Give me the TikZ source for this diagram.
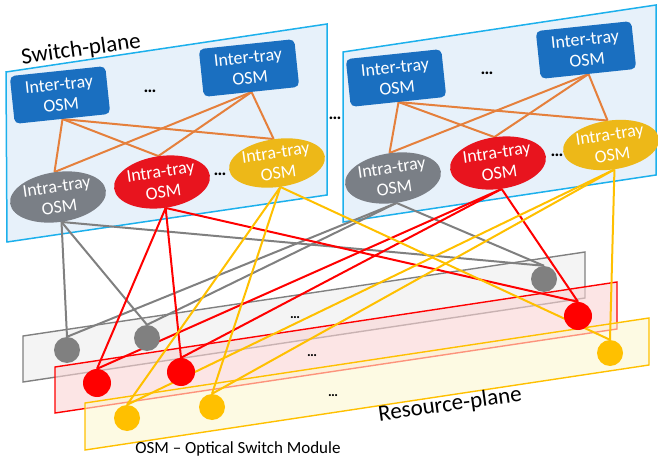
\documentclass[tikz,border=0pt]{standalone}
\usepackage{fontspec}
\setmainfont{Carlito}
\usetikzlibrary{shapes.geometric}
\definecolor{planefill}{HTML}{E7F1FA}
\definecolor{planeline}{HTML}{1CB0EC}
\definecolor{boxblue}{HTML}{1A6FC0}
\definecolor{egray}{HTML}{7A7F86}
\definecolor{ered}{HTML}{E8141E}
\definecolor{eyellow}{HTML}{EDB818}
\definecolor{lgray}{HTML}{808080}
\definecolor{lred}{HTML}{FF0000}
\definecolor{lyellow}{HTML}{FFC000}
\definecolor{lorange}{HTML}{E5803C}
\definecolor{rgfill}{HTML}{EDEDED}
\definecolor{rrfill}{HTML}{FAD4D4}
\definecolor{ryfill}{HTML}{FCF6D0}
\pgfdeclarelayer{bg}
\pgfsetlayers{bg,main}
\begin{document}
\begin{tikzpicture}[x=1pt,y=-1pt,
  splane/.style={draw=planeline,fill=planefill,line width=1.5pt},
  rplane/.style={line width=1.4pt,fill opacity=0.6},
  inter/.style={rectangle,rounded corners=5pt,fill=boxblue,text=white,minimum width=96pt,minimum height=48pt,inner sep=0pt,align=center,rotate=6,font=\fontsize{18}{21}\selectfont},
  intra/.style={ellipse,text=white,inner sep=0pt,align=center,rotate=8,font=\fontsize{18}{21}\selectfont},
  res/.style={circle,inner sep=0pt,minimum size=26pt},
  conn/.style={line width=2pt},
  dotsn/.style={anchor=base,font=\fontsize{18}{18}\selectfont\bfseries},
  label/.style={font=\fontsize{23}{26}\selectfont,rotate=8}]
\useasboundingbox (0,0) rectangle (658,462);
% inter-tray boxes
\node[inter] (L1) at (60,95) {Inter-tray\\OSM};
\node[inter] (L2) at (249,68) {Inter-tray\\OSM};
\node[inter] (R1) at (396,78) {Inter-tray\\OSM};
\node[inter] (R2) at (586,50) {Inter-tray\\OSM};
% intra-tray ellipses
\node[intra,fill=egray,minimum width=94pt,minimum height=50pt] (LG) at (58,197) {Intra-tray\\OSM};
\node[intra,fill=ered,minimum width=89pt,minimum height=52pt] (LR) at (162,182) {Intra-tray\\OSM};
\node[intra,fill=eyellow,minimum width=91pt,minimum height=48pt] (LY) at (277,163) {Intra-tray\\OSM};
\node[intra,fill=egray,minimum width=94pt,minimum height=50pt] (RG) at (393,178) {Intra-tray\\OSM};
\node[intra,fill=ered,minimum width=90pt,minimum height=52pt] (RR) at (498,163) {Intra-tray\\OSM};
\node[intra,fill=eyellow,minimum width=88pt,minimum height=49pt] (RY) at (611,145) {Intra-tray\\OSM};
% resource nodes
\node[res,fill=lgray] (g1) at (67,350) {};
\node[res,fill=lgray] (g2) at (147,338) {};
\node[res,fill=lgray] (g3) at (544,279) {};
\node[res,fill=lred,minimum size=28pt] (r1) at (97,383) {};
\node[res,fill=lred,minimum size=28pt] (r2) at (181,372) {};
\node[res,fill=lred,minimum size=28pt] (r3) at (578,316) {};
\node[res,fill=lyellow] (y1) at (127,418) {};
\node[res,fill=lyellow] (y2) at (212,407) {};
\node[res,fill=lyellow] (y3) at (610,353) {};
\begin{pgfonlayer}{bg}
% switch planes
\draw[splane] (6,72) -- (327,24) -- (327,195) -- (7,242) -- cycle;
\draw[splane] (343,52) -- (656,5) -- (656,175) -- (343,222) -- cycle;
% resource planes
\draw[rplane,draw=lgray,fill=rgfill] (23,336) -- (585,252) -- (585,298) -- (23,382) -- cycle;
\draw[rplane,draw=lred,fill=rrfill] (55,367) -- (617,282) -- (617,329) -- (55,413) -- cycle;
\draw[rplane,draw=lyellow,fill=ryfill] (85,403) -- (649,318) -- (649,365) -- (85,450) -- cycle;
% connectors
\foreach \a/\b in {L1/LG,L1/LR,L1/LY,L2/LG,L2/LR,L2/LY,R1/RG,R1/RR,R1/RY,R2/RG,R2/RR,R2/RY}
  \draw[conn,draw=lorange] (\a.south) -- (\b.north);
\foreach \a in {LG,RG} \foreach \b in {g1,g2,g3}
  \draw[conn,draw=lgray] (\a.south) -- (\b.north);
\foreach \a in {LR,RR} \foreach \b in {r1,r2,r3}
  \draw[conn,draw=lred] (\a.south) -- (\b.north);
\foreach \a in {LY,RY} \foreach \b in {y1,y2,y3}
  \draw[conn,draw=lyellow] (\a.south) -- (\b.north);
\end{pgfonlayer}
% dots
\node[dotsn] (d1) at (150,93) {…};
\node[dotsn] (d2) at (220,176) {…};
\node[dotsn] (d3) at (335,120) {…};
\node[dotsn] (d4) at (487,75) {…};
\node[dotsn] (d5) at (557,157) {…};
\node[dotsn,font=\fontsize{14}{14}\selectfont\bfseries] (d6) at (295,318) {…};
\node[dotsn,font=\fontsize{14}{14}\selectfont\bfseries] (d7) at (312,356) {…};
\node[dotsn,font=\fontsize{14}{14}\selectfont\bfseries] (d8) at (333,396) {…};
% labels
\node[label] (sp) at (81,50) {Switch-plane};
\node[label] (rp) at (450,405) {Resource-plane};
\node[font=\fontsize{17}{19}\selectfont] (leg) at (238,449) {OSM – Optical Switch Module};
\end{tikzpicture}
\end{document}
